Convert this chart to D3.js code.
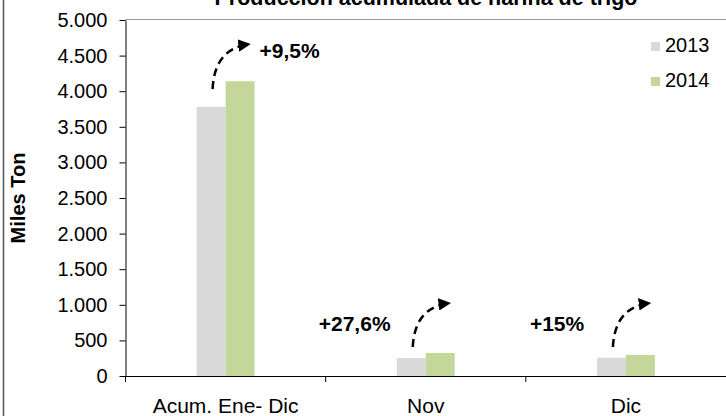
<!DOCTYPE html>
<html>
<head>
<meta charset="utf-8">
<script src="https://d3js.org/d3.v7.min.js"></script>
<style>
  body { margin: 0; background: #fff; }
  text { font-family: "Liberation Sans", Arial, sans-serif; }
</style>
</head>
<body>
<div id="vis"></div>
<script>
const width = 726;
const height = 416;

// data
const categories = ["Acum. Ene- Dic", "Nov", "Dic"];
const series = ["2013", "2014"];
const values2013 = [3780, 253, 257];
const values2014 = [4140, 323, 296];
const growthLabels = ["+9,5%", "+27,6%", "+15%"];
// where the growth notes sit, in data units
const labelLevel = [4570, 730, 730];
const arrowFrom = [4030, 407, 407];
const arrowTo = [4660, 1025, 1025];
const yTicks = [0, 500, 1000, 1500, 2000, 2500, 3000, 3500, 4000, 4500, 5000];

const colors = { "2013": "#d9d9d9", "2014": "#c4d79b" };

const margin = { top: 20, right: 0, bottom: 40, left: 125.5 };

const svg = d3.select("#vis").append("svg")
  .attr("width", width)
  .attr("height", height);

// left frame line
svg.append("line")
  .attr("x1", 3.5).attr("x2", 3.5)
  .attr("y1", 0).attr("y2", height)
  .attr("stroke", "#555").attr("stroke-width", 1.5);

const x = d3.scaleBand()
  .domain(categories)
  .range([margin.left, width - margin.right]);

const xInner = d3.scaleBand()
  .domain(series)
  .range([0, 58]);

const y = d3.scaleLinear()
  .domain([0, 5000])
  .range([height - margin.bottom, margin.top]);

const fmt = d3.format(",");
const fmtTick = d => fmt(d).replace(/,/g, ".");

// plot area top border
svg.append("line")
  .attr("x1", margin.left).attr("x2", width)
  .attr("y1", y(5000) - 0.5).attr("y2", y(5000) - 0.5)
  .attr("stroke", "#999");

// bars
const rows = categories.map((c, i) => ({ cat: c, vals: [values2013[i], values2014[i]] }));
const group = svg.append("g").selectAll("g")
  .data(rows)
  .join("g")
  .attr("transform", d => `translate(${x(d.cat) + x.bandwidth() / 2 - 29},0)`);

group.selectAll("rect")
  .data(d => d.vals.map((v, j) => ({ s: series[j], v: v })))
  .join("rect")
  .attr("x", d => xInner(d.s))
  .attr("width", xInner.bandwidth())
  .attr("y", d => y(d.v))
  .attr("height", d => y(0) - y(d.v))
  .attr("fill", d => colors[d.s]);

// axes
const yAxis = svg.append("g")
  .attr("transform", `translate(${margin.left},0)`)
  .call(d3.axisLeft(y).tickValues(yTicks).tickFormat(fmtTick).tickSize(6).tickSizeOuter(0));
yAxis.select(".domain").attr("stroke", "#000");
yAxis.selectAll(".tick line").attr("stroke", "#000");
yAxis.selectAll("text")
  .attr("font-size", 20)
  .attr("fill", "#000")
  .attr("x", -18);

const xAxis = svg.append("g")
  .attr("transform", `translate(0,${y(0)})`)
  .call(d3.axisBottom(x).tickSize(0).tickSizeOuter(0));
xAxis.select(".domain").attr("stroke", "#000");
xAxis.selectAll("text")
  .attr("font-size", 21)
  .attr("fill", "#000")
  .attr("dy", 0)
  .attr("y", 37);

// category separators
svg.append("g").selectAll("line")
  .data(categories)
  .join("line")
  .attr("x1", d => x(d)).attr("x2", d => x(d))
  .attr("y1", y(0)).attr("y2", y(0) + 6)
  .attr("stroke", "#000");

// axis title
svg.append("text")
  .attr("transform", `translate(25,${(y(0) + y(5000)) / 2}) rotate(-90)`)
  .attr("text-anchor", "middle")
  .attr("font-size", 20)
  .attr("font-weight", "bold")
  .text("Miles Ton");

// chart title
svg.append("text")
  .attr("x", 426)
  .attr("y", 5)
  .attr("text-anchor", "middle")
  .attr("font-size", 21.5)
  .attr("font-weight", "bold")
  .text("Producción acumulada de harina de trigo");

// legend
const legend = svg.append("g").selectAll("g")
  .data(series)
  .join("g")
  .attr("transform", (d, i) => `translate(651,${42 + i * 35})`);
legend.append("rect")
  .attr("width", 9).attr("height", 9)
  .attr("fill", d => colors[d]);
legend.append("text")
  .attr("x", 14).attr("y", 10)
  .attr("font-size", 20)
  .text(d => d);

// growth arrows
svg.append("defs").append("marker")
  .attr("id", "head")
  .attr("viewBox", "0 0 10 10")
  .attr("refX", 9).attr("refY", 5)
  .attr("markerWidth", 5).attr("markerHeight", 5)
  .attr("markerUnits", "strokeWidth")
  .attr("orient", "auto")
  .append("path")
  .attr("d", "M0,0 L10,5 L0,10 Z")
  .attr("fill", "#000");

categories.forEach((c, i) => {
  const cx = x(c) + x.bandwidth() / 2;
  const x0 = cx - 13, y0 = y(arrowFrom[i]);
  const x1 = cx + 24, y1 = y(arrowTo[i]);
  svg.append("path")
    .attr("d", `M${x0},${y0} Q${x0 + 2},${y1 + 4} ${x1},${y1}`)
    .attr("fill", "none")
    .attr("stroke", "#000")
    .attr("stroke-width", 2.5)
    .attr("stroke-dasharray", "8,5")
    .attr("marker-end", "url(#head)");
});

svg.append("g").selectAll("text")
  .data(growthLabels)
  .join("text")
  .attr("x", (d, i) => i === 0 ? x(categories[i]) + x.bandwidth() / 2 + 34 : x(categories[i]) + x.bandwidth() / 2 - 107 + (i === 2 ? 11 : 0))
  .attr("y", (d, i) => y(labelLevel[i]))
  .attr("dy", "0.35em")
  .attr("font-size", 21)
  .attr("font-weight", "bold")
  .text(d => d);
</script>
</body>
</html>
